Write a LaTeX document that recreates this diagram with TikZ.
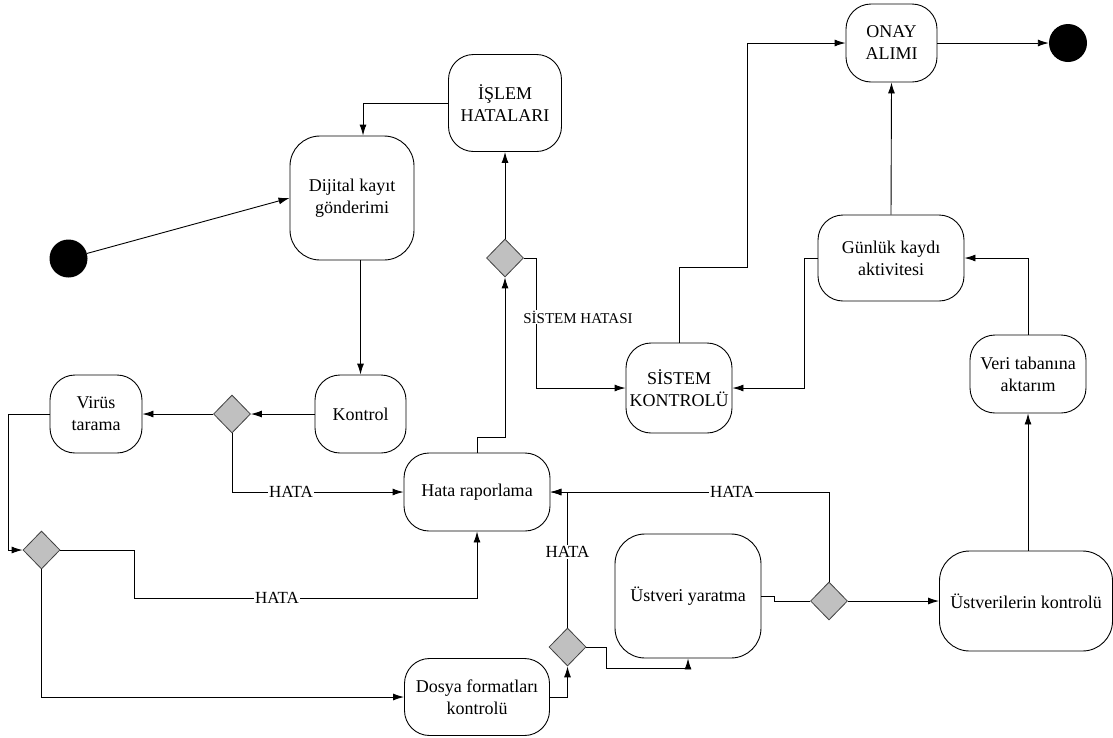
\documentclass[tikz,border=0pt]{standalone}
\usepackage{fontspec}
\setmainfont{Liberation Serif}
\usetikzlibrary{shapes.geometric,arrows.meta,calc}
\definecolor{dgray}{HTML}{C0C0C0}
\definecolor{dborder}{HTML}{404040}
\tikzset{
  box/.style={draw, rounded corners=25pt, align=center, inner sep=0pt, line width=0.9pt,
    font=\fontsize{18}{22}\selectfont},
  dec/.style={draw=dborder, fill=dgray, diamond, inner sep=0pt, minimum width=37pt, minimum height=38pt, line width=0.8pt},
  dot/.style={circle, fill=black, minimum size=38pt, inner sep=0pt},
  arr/.style={-{Latex[length=11pt,width=7pt]}, line width=0.9pt},
  ln/.style={line width=0.9pt},
  lab/.style={fill=white, inner sep=1pt, font=\fontsize{17}{20}\selectfont},
  slab/.style={fill=white, inner sep=1pt, font=\fontsize{15}{18}\selectfont}
}
\begin{document}
\begin{tikzpicture}[x=1pt,y=-1pt]
\useasboundingbox (0,0) rectangle (1113,737);
% nodes
\node[dot] (start) at (68.5,258.5) {};
\node[box, minimum width=124pt, minimum height=124pt, rounded corners=30pt] (dij) at (352,198) {Dijital kayıt\\gönderimi};
\node[box, minimum width=113pt, minimum height=97pt] (isl) at (505,103) {İŞLEM\\HATALARI};
\node[box, minimum width=91pt, minimum height=78pt] (kon) at (360.5,414) {Kontrol};
\node[dec] (d1) at (232,414) {};
\node[box, minimum width=92pt, minimum height=78pt] (vir) at (96,414) {Virüs\\tarama};
\node[dec] (d2) at (41.5,550) {};
\node[box, minimum width=146pt, minimum height=78pt] (hata) at (477,492) {Hata raporlama};
\node[box, minimum width=145pt, minimum height=77pt] (dos) at (477,697) {Dosya formatları\\kontrolü};
\node[dec] (d3) at (567.5,647) {};
\node[box, minimum width=146pt, minimum height=124pt, rounded corners=30pt] (ust) at (688,596) {Üstveri yaratma};
\node[dec] (d4) at (829,601) {};
\node[box, minimum width=173pt, minimum height=100pt, rounded corners=30pt] (ustk) at (1026,601) {Üstverilerin kontrolü};
\node[box, minimum width=116pt, minimum height=78pt] (veri) at (1028,374) {Veri tabanına\\aktarım};
\node[box, minimum width=146pt, minimum height=86pt] (gun) at (891,258) {Günlük kaydı\\aktivitesi};
\node[box, minimum width=91pt, minimum height=78pt] (onay) at (891.5,43) {ONAY\\ALIMI};
\node[dot] (end) at (1068,43) {};
\node[box, minimum width=106pt, minimum height=90pt] (sis) at (679,388) {SİSTEM\\KONTROLÜ};
\node[dec] (d5) at (505,258) {};
% connectors
\draw[arr] (start) -- (dij.west);
\draw[arr] (isl.west) -| ($(dij.north)+(11,0)$);
\draw[arr] (kon.north |- dij.south) -- (kon.north);
\draw[arr] (kon.west) -- (d1.east);
\draw[arr] (d1.west) -- (vir.east);
\draw[arr] (d1.south) |- (hata.west);
\draw[arr] (vir.west) -- ++(-41,0) |- (d2.west);
\draw[arr] (d2.east) -- ++(74,0) |- ($(hata.south)+(0,67)$) -- (hata.south);
\draw[arr] (d2.south) |- (dos.west);
\draw[arr] (dos.east) -| (d3.south);
\draw[arr] (d3.north) |- (hata.east);
\draw[arr] (d3.east) -- ++(20,0) |- ($(ust.south)+(0,10)$) -- (ust.south);
\draw[ln] (ust.east) -- ++(13,0) |- (d4.west);
\draw[arr] (d4.north) |- (hata.east);
\draw[arr] (d4.east) -- (ustk.west);
\draw[arr] (veri.south |- ustk.north) -- (veri.south);
\draw[arr] (veri.north) |- (gun.east);
\draw[arr] (gun.north) -- (onay.south);
\draw[arr] (onay.east) -- (end);
\draw[arr] (gun.west) -- ++(-13,0) |- (sis.east);
\draw[arr] (sis.north) |- ($(onay.west)+(-98,224)$) |- (onay.west);
\draw[arr] (hata.north) -- ++(0,-15) -| (d5.south);
\draw[arr] (d5.north) -- (isl.south);
\draw[arr] (d5.east) -- ++(13,0) |- (sis.west);
% labels
\node[lab] (l1) at (291,492) {HATA};
\node[lab] (l2) at (277,598) {HATA};
\node[lab] (l3) at (567.5,552) {HATA};
\node[lab] (l4) at (732,492) {HATA};
\node[slab] (l5) at (578,317) {SİSTEM HATASI};
\end{tikzpicture}
\end{document}
